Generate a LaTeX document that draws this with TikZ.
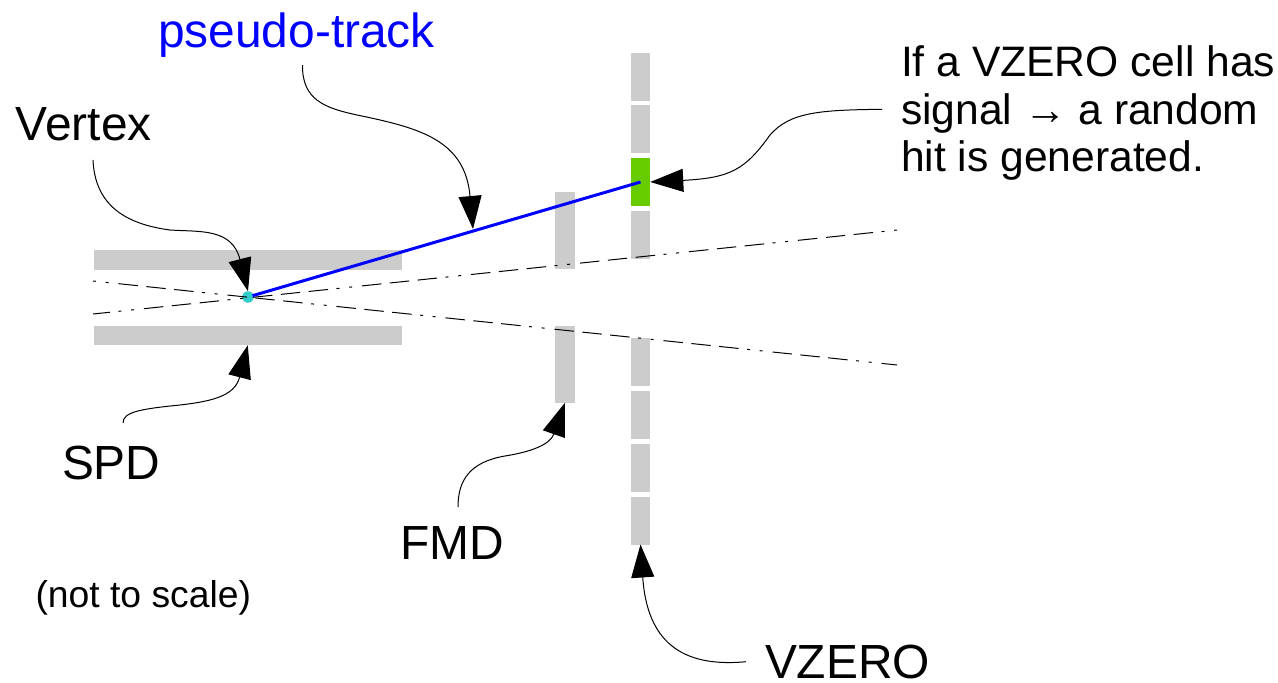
\documentclass[tikz,border=0pt]{standalone}
\usepackage{fontspec}
\setmainfont{Liberation Sans}
\usetikzlibrary{arrows.meta}
\definecolor{detgray}{HTML}{CCCCCC}
\definecolor{hitgreen}{HTML}{66CC00}
\definecolor{vertexcyan}{HTML}{33CCCC}
\tikzset{
  det/.style={fill=detgray,draw=none,inner sep=0pt,outer sep=0pt},
  spdbar/.style={det,minimum width=307.5pt,minimum height=19.5pt},
  fmdbar/.style={det,minimum width=19.5pt,minimum height=77pt},
  vcell/.style={det,minimum width=19.5pt,minimum height=48pt},
  lab/.style={anchor=base west,inner sep=0pt,outer sep=0pt,font=\fontsize{47.9}{54}\selectfont},
  info/.style={anchor=base west,inner sep=0pt,outer sep=0pt,font=\fontsize{42.6}{48}\selectfont},
  small/.style={anchor=base west,inner sep=0pt,outer sep=0pt,font=\fontsize{37.3}{44}\selectfont},
  pointer/.style={line width=1pt,black,-{Triangle[length=33pt,width=23pt]}},
  acceptance/.style={line width=1pt,black,dash pattern=on 3pt off 9.7pt on 3pt off 9.9pt on 19.5pt off 8.5pt on 19.5pt off 8.5pt on 19.5pt off 8.5pt}
}
\begin{document}
\begin{tikzpicture}[x=1pt,y=-1pt]
\useasboundingbox (0,0) rectangle (1278,683);
% detectors
\node[spdbar] (spdT) at (247.75,260) {};
\node[spdbar] (spdB) at (247.75,335.5) {};
\node[fmdbar] (fmdT) at (564.75,230.5) {};
\node[fmdbar] (fmdB) at (564.75,364.5) {};
\node[vcell] (v1) at (640.5,76.5) {};
\node[vcell] (v2) at (640.5,129) {};
\node[vcell,fill=hitgreen] (v3) at (640.5,182) {};
\node[vcell] (v4) at (640.5,234.5) {};
\node[vcell] (v5) at (640.5,362) {};
\node[vcell] (v6) at (640.5,415) {};
\node[vcell] (v7) at (640.5,467.5) {};
\node[vcell] (v8) at (640.5,520.5) {};
% vertex and acceptance lines
\node[circle,fill=vertexcyan,draw=none,minimum size=11.5pt,inner sep=0pt,outer sep=0pt] (vtx) at (248,297) {};
\coordinate (accAs) at (93,281);
\coordinate (accAe) at (897,365);
\coordinate (accBs) at (93,314);
\coordinate (accBe) at (897,230);
\draw[acceptance] (accAs) -- (accAe);
\draw[acceptance,dash phase=84pt] (accBs) -- (accBe);
% track
\draw[blue,line width=3pt] ([shift={(4.5,-1.3)}]vtx.center) -- (v3.center);
% labels
\node[lab,text=blue] (ltrack) at (158,47) {pseudo-track};
\node[lab] (lvertex) at (16,140) {Vertex};
\node[info] (linfoA) at (901,76.5) {If a VZERO cell has};
\node[info] (linfoB) at (901,124) {signal → a random};
\node[info] (linfoC) at (901,171.7) {hit is generated.};
\node[lab] (lspd) at (62,479) {SPD};
\node[lab] (lfmd) at (400,559) {FMD};
\node[lab] (lvzero) at (765,678) {VZERO};
\node[small] (lscale) at (35.5,607) {(not to scale)};
% pointers
\coordinate (sVertex) at (93,160);
\coordinate (mVertex) at (170,230);
\coordinate (sTrack) at (302.5,65);
\coordinate (mTrack) at (357,115);
\coordinate (tTrack) at (473,229);
\coordinate (sSignal) at (882,109.3);
\coordinate (mSignal) at (770,135);
\coordinate (sSpd) at (123,423);
\coordinate (mSpd) at (180,405);
\coordinate (sFmd) at (458,507);
\coordinate (mFmd) at (505,456);
\coordinate (sVzero) at (746,661.7);
\draw[pointer] (sVertex) .. controls (95,205) and (125,224) .. (mVertex) .. controls (200,232) and (232,228) .. (vtx.north);
\draw[pointer] (sTrack) .. controls (302,100) and (325,108) .. (mTrack) .. controls (420,128) and (465,140) .. (tTrack);
\draw[pointer] (sSignal) .. controls (820,110) and (790,112) .. (mSignal) .. controls (745,170) and (730,178) .. (v3.east);
\draw[pointer] (sSpd) .. controls (123,412) and (140,409) .. (mSpd) .. controls (215,401) and (235,395) .. (spdB.south);
\draw[pointer] (sFmd) .. controls (458,480) and (470,462) .. (mFmd) .. controls (530,452) and (550,445) .. (fmdB.south);
\draw[pointer] (sVzero) .. controls (680,668) and (647,640) .. (v8.south);
\end{tikzpicture}
\end{document}
